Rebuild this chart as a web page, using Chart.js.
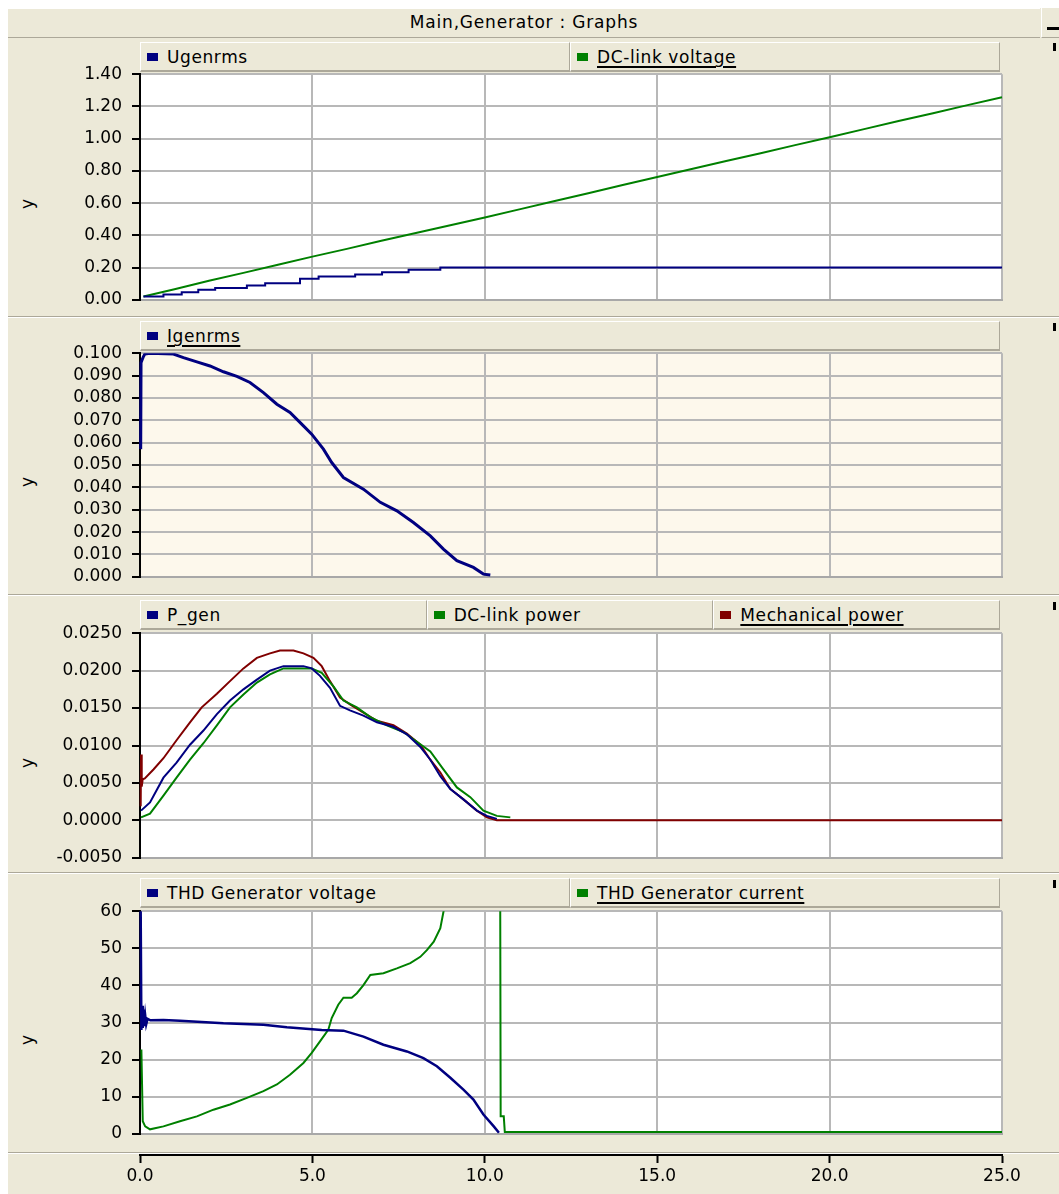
<!DOCTYPE html>
<html>
<head>
<meta charset="utf-8">
<title>Main,Generator : Graphs</title>
<script src="https://cdn.jsdelivr.net/npm/chart.js@4.4.1/dist/chart.umd.min.js"></script>
<style>
  html, body { margin: 0; padding: 0; background: #fff; }
  body { width: 1059px; height: 1194px; position: relative; overflow: hidden;
         font-family: "DejaVu Sans", sans-serif; font-size: 17px; color: #000; }
  .abs { position: absolute; }
  #frame { left: 8px; top: 8px; right: 0; bottom: 0; background: #ECE9D8; }
  #titlebar { left: 8px; top: 8px; width: 1032px; height: 29px; line-height: 28px; text-align: center;
              background: #ECE9D8; border-bottom: 1px solid #ACA899; box-shadow: inset 0 1px 0 #fff;
              letter-spacing: 0.8px; }
  #minbtn { left: 1041px; top: 8px; width: 18px; height: 29px; background: #ECE9D8; z-index: 2;
            border-left: 1px solid #fff; border-bottom: 1px solid #ACA899; }
  #minbtn span { position: absolute; left: 5px; top: 19px; width: 13px; height: 3px; background: #000; }
  .sep { left: 8px; width: 1051px; height: 0; border-top: 1px solid #ACA899; border-bottom: 1px solid #fff; }
  .legendbar { left: 140px; width: 860px; height: 30px; display: flex; }
  .cell { flex: 1; position: relative; background: #ECE9D8; box-sizing: border-box;
          border-top: 1px solid #fff; border-left: 1px solid #fff;
          border-right: 1px solid #ACA899; border-bottom: 2px solid #ACA899;
          white-space: nowrap; letter-spacing: 0.6px; }
  .cell .mark { position: absolute; left: 6px; top: 10px; width: 11px; height: 8px; }
  .cell .name { position: absolute; left: 26px; top: 3px; line-height: 22px; }
  .cell .name.sel { text-decoration: underline; text-decoration-thickness: 2px; text-underline-offset: 3px; }
  .ylab { width: 20px; height: 20px; line-height: 20px; text-align: center; transform: rotate(-90deg); }
  .pin { left: 1053px; width: 3px; height: 8px; background: #000; }
</style>
</head>
<body>
<div id="frame" class="abs"></div>
<div id="titlebar" class="abs">Main,Generator : Graphs</div>
<div id="minbtn" class="abs"><span></span></div>

<script>
// simulation time (s) and signal values, one pair of arrays per signal

// Ugenrms
const ugenrmsT = [0.10, 0.68, 1.21, 1.69, 2.18, 3.10, 3.63, 4.64, 5.18, 6.24, 7.02, 7.79, 8.71, 25.0];
const ugenrmsV = [0.020, 0.033, 0.047, 0.062, 0.074, 0.089, 0.103, 0.130, 0.144, 0.157, 0.171, 0.186, 0.200, 0.200];

// DC-link voltage
const dcVoltT = [0.10, 1, 2, 3, 4, 5, 6, 7, 8, 9, 10, 11, 12, 13, 14, 15, 16, 17, 18, 19, 20, 21, 22, 23, 24, 25];
const dcVoltV = [0.020, 0.066, 0.118, 0.167, 0.218, 0.268, 0.316, 0.366, 0.414, 0.463, 0.511, 0.561, 0.611,
                 0.661, 0.712, 0.762, 0.812, 0.861, 0.910, 0.960, 1.009, 1.059, 1.109, 1.158, 1.208, 1.257];

// Igenrms
const igenrmsT = [0.02, 0.03, 0.06, 0.10, 0.14, 0.29, 0.97, 1.26, 1.65, 2.03, 2.42, 2.81, 3.19, 3.58, 3.97, 4.35,
                  4.74, 4.98, 5.32, 5.56, 5.90, 6.48, 6.97, 7.45, 7.93, 8.42, 8.80, 9.19, 9.67, 9.96, 10.16];
const igenrmsV = [0.0571, 0.0958, 0.0970, 0.0985, 0.0996, 0.1000, 0.0996, 0.0980, 0.0961, 0.0943, 0.0917, 0.0896,
                  0.0869, 0.0824, 0.0772, 0.0735, 0.0675, 0.0638, 0.0571, 0.0511, 0.0444, 0.0392, 0.0333, 0.0295,
                  0.0243, 0.0183, 0.0124, 0.0072, 0.0042, 0.0012, 0.0008];

// P_gen
const pGenT = [0.03, 0.29, 0.68, 1.06, 1.45, 1.84, 2.23, 2.61, 3.00, 3.39, 3.77, 4.16, 4.74, 4.98, 5.22, 5.51,
               5.80, 6.09, 6.48, 6.87, 7.35, 7.74, 8.13, 8.42, 8.71, 9.00, 9.38, 9.77, 10.06, 10.35];
const pGenV = [0.0013, 0.0024, 0.0057, 0.0077, 0.0101, 0.0120, 0.0142, 0.0160, 0.0175, 0.0188, 0.0200, 0.0206,
               0.0206, 0.0203, 0.0193, 0.0177, 0.0153, 0.0147, 0.0140, 0.0131, 0.0125, 0.0115, 0.0098, 0.0081,
               0.0059, 0.0042, 0.0028, 0.0013, 0.0006, 0.0002];

// DC-link power
const dcPowerT = [0.03, 0.29, 0.68, 1.06, 1.45, 1.84, 2.23, 2.61, 3.00, 3.39, 3.77, 4.16, 4.98, 5.27, 5.61, 5.90,
                  6.29, 6.68, 7.16, 7.64, 8.03, 8.42, 8.80, 9.19, 9.58, 9.96, 10.35, 10.74];
const dcPowerV = [0.0004, 0.0009, 0.0033, 0.0057, 0.0081, 0.0103, 0.0127, 0.0151, 0.0168, 0.0184, 0.0195, 0.0203,
                  0.0203, 0.0197, 0.0179, 0.0160, 0.0151, 0.0138, 0.0127, 0.0118, 0.0105, 0.0092, 0.0068, 0.0044,
                  0.0031, 0.0013, 0.0006, 0.0004];

// Mechanical power
const mechPowerT = [0.02, 0.03, 0.05, 0.08, 0.14, 0.39, 0.68, 1.06, 1.45, 1.79, 2.23, 2.61, 3.00, 3.39, 3.77, 4.06,
                    4.45, 4.74, 5.03, 5.27, 5.51, 5.80, 6.09, 6.48, 6.87, 7.35, 7.74, 8.13, 8.42, 8.71, 9.00, 9.38,
                    9.77, 10.06, 10.35, 25.0];
const mechPowerV = [0.0019, 0.0088, 0.0045, 0.0055, 0.0056, 0.0068, 0.0083, 0.0107, 0.0131, 0.0151, 0.0169, 0.0186,
                    0.0203, 0.0217, 0.0223, 0.0227, 0.0227, 0.0223, 0.0217, 0.0206, 0.0186, 0.0164, 0.0155, 0.0144,
                    0.0133, 0.0127, 0.0116, 0.0101, 0.0081, 0.0064, 0.0042, 0.0028, 0.0013, 0.0004, 0.0000, 0.0000];

// THD Generator voltage
const thdVoltT = [0.01, 0.02, 0.04, 0.06, 0.08, 0.10, 0.12, 0.15, 0.18, 0.22, 0.30, 0.68, 1.16, 2.42, 3.58, 4.26,
                  5.27, 5.90, 6.48, 7.06, 7.74, 8.22, 8.61, 9.00, 9.38, 9.67, 9.96, 10.26, 10.41];
const thdVoltV = [95, 60, 28, 34.5, 28.5, 33.5, 29, 32, 29.5, 31, 30.6, 30.7, 30.5, 29.8, 29.4, 28.7,
                  28.0, 27.8, 26.2, 24.0, 22.2, 20.4, 18.2, 15.1, 11.9, 9.2, 5.2, 2.0, 0.3];

// THD Generator current
const thdCurrT = [0.04, 0.08, 0.15, 0.29, 0.68, 1.16, 1.65, 2.13, 2.61, 3.10, 3.58, 3.97, 4.35, 4.74, 4.98, 5.22,
                  5.46, 5.56, 5.75, 5.90, 6.14, 6.29, 6.48, 6.68, 7.06, 7.45, 7.84, 8.13, 8.32, 8.52, 8.71, 8.80,
                  8.90, 10.44, 10.46, 10.55, 10.58, 25.0];
const thdCurrV = [22.7, 3.4, 2.0, 1.2, 2.0, 3.4, 4.7, 6.5, 7.9, 9.7, 11.5, 13.3, 15.9, 19.1, 21.8, 24.9,
                  28.0, 31.2, 34.8, 36.7, 36.7, 37.9, 40.1, 42.8, 43.3, 44.6, 46.0, 47.7, 49.5, 51.8, 55.4, 59.8,
                  64, 95, 4.7, 4.7, 0.5, 0.5];

// shared time axis and the value axis range of each graph: [min, max, step]
const timeRange = [0, 25, 5];
const yRange1 = [0, 1.4, 0.2];
const yRange2 = [0, 0.1, 0.01];
const yRange3 = [-0.005, 0.025, 0.005];
const yRange4 = [0, 60, 10];

const BLUE = '#000080', GREEN = '#008000', RED = '#800000';

const graphs = [
  { top: 74, bottom: 300, legendTop: 42, range: yRange1, digits: 2, bg: '#ffffff',
    series: [
      { label: 'Ugenrms', color: BLUE, t: ugenrmsT, v: ugenrmsV, stepped: true },
      { label: 'DC-link voltage', color: GREEN, t: dcVoltT, v: dcVoltV, sel: true }
    ] },
  { top: 353, bottom: 577, legendTop: 321, range: yRange2, digits: 3, bg: '#FDF8EC',
    series: [
      { label: 'Igenrms', color: BLUE, t: igenrmsT, v: igenrmsV, sel: true, width: 3 }
    ] },
  { top: 633, bottom: 858, legendTop: 600, range: yRange3, digits: 4, bg: '#ffffff',
    series: [
      { label: 'P_gen', color: BLUE, t: pGenT, v: pGenV },
      { label: 'DC-link power', color: GREEN, t: dcPowerT, v: dcPowerV },
      { label: 'Mechanical power', color: RED, t: mechPowerT, v: mechPowerV, sel: true }
    ] },
  { top: 911, bottom: 1134, legendTop: 878, range: yRange4, digits: 0, bg: '#ffffff',
    series: [
      { label: 'THD Generator voltage', color: BLUE, t: thdVoltT, v: thdVoltV, width: 2.5 },
      { label: 'THD Generator current', color: GREEN, t: thdCurrT, v: thdCurrV, sel: true }
    ] }
];

Chart.defaults.font.family = '"DejaVu Sans", sans-serif';
Chart.defaults.font.size = 17;
Chart.defaults.color = '#000';

// fills the plot rectangle before grid and lines are drawn
const plotBackground = {
  id: 'plotBackground',
  beforeDraw(chart, args, opts) {
    if (!opts.color) return;
    const { ctx, chartArea: a } = chart;
    ctx.save();
    ctx.fillStyle = opts.color;
    ctx.fillRect(a.left, a.top, a.right - a.left, a.bottom - a.top);
    ctx.restore();
  }
};

const W = 1059, PAD = 14, RIGHT_PAD = 57;

function addEl(cls, css, text) {
  const el = document.createElement('div');
  el.className = cls;
  Object.assign(el.style, css);
  if (text !== undefined) el.textContent = text;
  document.body.appendChild(el);
  return el;
}

function addCanvas(top, h) {
  const c = document.createElement('canvas');
  c.width = W;
  c.height = h;
  c.className = 'abs';
  c.style.left = '0px';
  c.style.top = top + 'px';
  c.style.width = W + 'px';
  c.style.height = h + 'px';
  document.body.appendChild(c);
  return c;
}

// build once, see where the plot rectangle lands, then rebuild so it sits at top..bottom
function placeChart(config, top, bottom) {
  let h = bottom - top + 2 * PAD;
  let canvas = addCanvas(top - PAD, h);
  let chart = new Chart(canvas, config);
  const a = chart.chartArea;
  const offTop = a.top, extra = h - (a.bottom - a.top);
  chart.destroy();
  canvas.remove();
  h = bottom - top + extra;
  canvas = addCanvas(top - offTop, h);
  return new Chart(canvas, config);
}

// etched separators between the graph strips
[316, 594, 872, 1152].forEach(y => addEl('abs sep', { top: y + 'px' }));
// small markers at the right edge
[43, 323, 602, 880].forEach(y => addEl('abs pin', { top: y + 'px' }));

graphs.forEach(g => {
  // legend strip
  const bar = addEl('abs legendbar', { top: g.legendTop + 'px' });
  g.series.forEach(s => {
    const cell = document.createElement('div');
    cell.className = 'cell';
    cell.innerHTML = `<span class="mark" style="background:${s.color}"></span><span class="name${s.sel ? ' sel' : ''}">${s.label}</span>`;
    bar.appendChild(cell);
  });

  // axis name
  addEl('abs ylab', { left: '17px', top: ((g.top + g.bottom) / 2 + 17 - 10) + 'px' }, 'y');

  placeChart({
    type: 'line',
    data: {
      datasets: g.series.map(s => ({
        label: s.label,
        data: s.t.map((x, i) => ({ x: x, y: s.v[i] })),
        borderColor: s.color,
        backgroundColor: s.color,
        borderWidth: s.width || 2,
        pointRadius: 0,
        tension: 0,
        stepped: s.stepped || false,
        clip: { left: 2, top: 0, right: 2, bottom: 2 }
      }))
    },
    options: {
      responsive: false,
      maintainAspectRatio: false,
      animation: false,
      events: [],
      layout: { padding: { left: 0, right: RIGHT_PAD, top: PAD, bottom: PAD } },
      plugins: {
        legend: { display: false },
        tooltip: { enabled: false },
        plotBackground: { color: g.bg }
      },
      scales: {
        x: {
          type: 'linear',
          min: timeRange[0], max: timeRange[1],
          afterFit: s => { s.height = 0; },
          border: { color: '#a8a8a8', width: 2 },
          grid: { color: '#b8b8b8', lineWidth: 2, drawTicks: false },
          ticks: { stepSize: timeRange[2], display: false }
        },
        y: {
          type: 'linear',
          min: g.range[0], max: g.range[1],
          afterFit: s => { s.width = 140; },
          border: { color: '#000', width: 2 },
          grid: { color: '#b8b8b8', lineWidth: 2, tickColor: '#000', tickWidth: 2, tickLength: 8 },
          ticks: {
            stepSize: g.range[2], autoSkip: false, padding: 10, color: '#000',
            callback: v => (Math.abs(v) < 1e-9 ? 0 : v).toFixed(g.digits)
          }
        }
      }
    },
    plugins: [plotBackground]
  }, g.top, g.bottom);
});

// shared time axis under the last graph
const axisCanvas = addCanvas(1140, 54);
new Chart(axisCanvas, {
  type: 'line',
  data: { datasets: [] },
  options: {
    responsive: false,
    maintainAspectRatio: false,
    animation: false,
    events: [],
    layout: { padding: { left: 140, right: RIGHT_PAD, top: 5, bottom: 0 } },
    plugins: { legend: { display: false }, tooltip: { enabled: false } },
    scales: {
      x: {
        type: 'linear',
        min: timeRange[0], max: timeRange[1],
        afterFit: s => { s.height = 39; },
        border: { color: '#000', width: 2 },
        grid: { drawOnChartArea: false, tickColor: '#000', tickWidth: 2, tickLength: 8 },
        ticks: { stepSize: timeRange[2], padding: 3, color: '#000', maxRotation: 0,
                 callback: v => v.toFixed(1) }
      },
      y: { display: false }
    }
  }
});
</script>
</body>
</html>
